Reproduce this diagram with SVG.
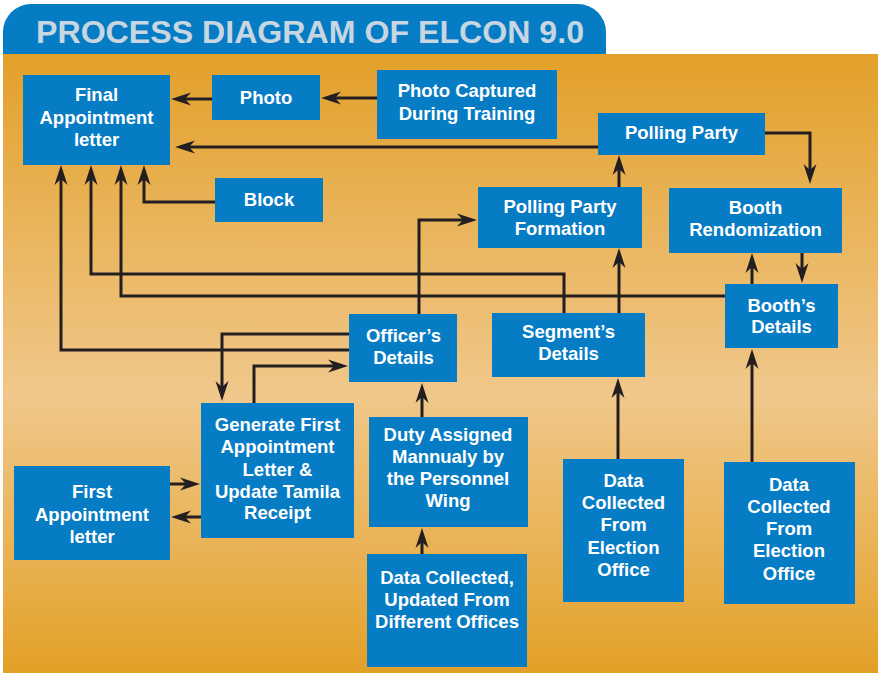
<svg xmlns="http://www.w3.org/2000/svg" width="878" height="676" viewBox="0 0 878 676">
<defs>
<linearGradient id="bg" x1="0" y1="0" x2="0" y2="1">
<stop offset="0" stop-color="#E3A02A"/>
<stop offset="0.55" stop-color="#F0C88B"/>
<stop offset="1" stop-color="#E3A027"/>
</linearGradient>
<marker id="ah" markerUnits="userSpaceOnUse" markerWidth="20" markerHeight="14" viewBox="0 -7 20 14" refX="8" refY="0" orient="auto">
<path d="M20,0 L0,-6.5 L6,0 L0,6.5 Z" fill="#231F20"/>
</marker>
</defs>
<style>
.box{fill:#067CC4}
.t{font-family:"Liberation Sans",Arial,sans-serif;font-weight:bold;font-size:18.5px;fill:#FFFFFF;text-anchor:middle}
.c{fill:none;stroke:#231F20;stroke-width:3;marker-end:url(#ah)}
</style>
<rect x="3" y="54" width="875" height="619" fill="url(#bg)"/>
<g id="title">
<path d="M3,54 V32 A28,28 0 0 1 31,4 H578 A28,28 0 0 1 606,32 V54 Z" fill="#067CC4"/>
<text x="310" y="43" font-family="Liberation Sans,Arial,sans-serif" font-weight="bold" font-size="32" fill="#C7D6E1" text-anchor="middle" textLength="548" lengthAdjust="spacingAndGlyphs">PROCESS DIAGRAM OF ELCON 9.0</text>
</g>
<g id="connectors">
<path class="c" d="M212,99 H183"/>
<path class="c" d="M377,98 H333"/>
<path class="c" d="M598,147 H187"/>
<path class="c" d="M765,133 H810 V172"/>
<path class="c" d="M619,187 V167"/>
<path class="c" d="M619,313 V260"/>
<path class="c" d="M752,284 V265"/>
<path class="c" d="M802,253 V271"/>
<path class="c" d="M215,202 H144 V177"/>
<path class="c" d="M349,350 H61 V177"/>
<path class="c" d="M564,313 V274 H91 V177"/>
<path class="c" d="M725,296 H121 V177"/>
<path class="c" d="M349,334 H222 V389"/>
<path class="c" d="M419,314 V220 H465"/>
<path class="c" d="M254,403 V366 H336"/>
<path class="c" d="M422,417 V395"/>
<path class="c" d="M422,554 V540"/>
<path class="c" d="M618,459 V390"/>
<path class="c" d="M752,462 V361"/>
<path class="c" d="M170,484 H188"/>
<path class="c" d="M201,517 H183"/>
</g>
<g id="final-appointment-letter">
<rect class="box" x="23" y="75" width="147" height="90"/>
<text class="t" x="96.5" y="101">Final</text>
<text class="t" x="96.5" y="123.5">Appointment</text>
<text class="t" x="96.5" y="146">letter</text>
</g>
<g id="photo">
<rect class="box" x="212" y="75" width="108" height="45"/>
<text class="t" x="266" y="104">Photo</text>
</g>
<g id="photo-captured">
<rect class="box" x="377" y="70" width="180" height="69"/>
<text class="t" x="467" y="97">Photo Captured</text>
<text class="t" x="467" y="119.5">During Training</text>
</g>
<g id="polling-party">
<rect class="box" x="598" y="113" width="167" height="42"/>
<text class="t" x="681.5" y="139">Polling Party</text>
</g>
<g id="polling-party-formation">
<rect class="box" x="478" y="187" width="164" height="61"/>
<text class="t" x="560" y="213.3">Polling Party</text>
<text class="t" x="560" y="235">Formation</text>
</g>
<g id="booth-rendomization">
<rect class="box" x="669" y="188" width="173" height="65"/>
<text class="t" x="755.5" y="214.3">Booth</text>
<text class="t" x="755.5" y="236">Rendomization</text>
</g>
<g id="block">
<rect class="box" x="215" y="178" width="108" height="44"/>
<text class="t" x="269" y="206">Block</text>
</g>
<g id="officers-details">
<rect class="box" x="349" y="314" width="108" height="68"/>
<text class="t" x="403.5" y="342.3">Officer’s</text>
<text class="t" x="403.5" y="363.7">Details</text>
</g>
<g id="segments-details">
<rect class="box" x="492" y="313" width="153" height="64"/>
<text class="t" x="568.5" y="338.3">Segment’s</text>
<text class="t" x="568.5" y="360">Details</text>
</g>
<g id="booths-details">
<rect class="box" x="725" y="284" width="113" height="64"/>
<text class="t" x="781.5" y="311.7">Booth’s</text>
<text class="t" x="781.5" y="332.7">Details</text>
</g>
<g id="generate-first-appointment">
<rect class="box" x="201" y="403" width="153" height="135"/>
<text class="t" x="277.5" y="430.7">Generate First</text>
<text class="t" x="277.5" y="452.7">Appointment</text>
<text class="t" x="277.5" y="475.7">Letter &amp;</text>
<text class="t" x="277.5" y="497.7">Update Tamila</text>
<text class="t" x="277.5" y="519">Receipt</text>
</g>
<g id="duty-assigned">
<rect class="box" x="369" y="417" width="159" height="110"/>
<text class="t" x="448" y="440.7">Duty Assigned</text>
<text class="t" x="448" y="463.3">Mannualy by</text>
<text class="t" x="448" y="485.3">the Personnel</text>
<text class="t" x="448" y="507.3">Wing</text>
</g>
<g id="first-appointment-letter">
<rect class="box" x="14" y="466" width="156" height="94"/>
<text class="t" x="92" y="497.5">First</text>
<text class="t" x="92" y="520.5">Appointment</text>
<text class="t" x="92" y="542.5">letter</text>
</g>
<g id="data-collected-offices">
<rect class="box" x="367" y="554" width="160" height="113"/>
<text class="t" x="447" y="583.5">Data Collected,</text>
<text class="t" x="447" y="605.5">Updated From</text>
<text class="t" x="447" y="627.5">Different Offices</text>
</g>
<g id="data-election-office-1">
<rect class="box" x="563" y="459" width="121" height="143"/>
<text class="t" x="623.5" y="486.7">Data</text>
<text class="t" x="623.5" y="508.6">Collected</text>
<text class="t" x="623.5" y="531">From</text>
<text class="t" x="623.5" y="553.5">Election</text>
<text class="t" x="623.5" y="575.5">Office</text>
</g>
<g id="data-election-office-2">
<rect class="box" x="724" y="462" width="131" height="142"/>
<text class="t" x="789" y="490.7">Data</text>
<text class="t" x="789" y="512.9">Collected</text>
<text class="t" x="789" y="535">From</text>
<text class="t" x="789" y="557.3">Election</text>
<text class="t" x="789" y="580">Office</text>
</g>
</svg>
